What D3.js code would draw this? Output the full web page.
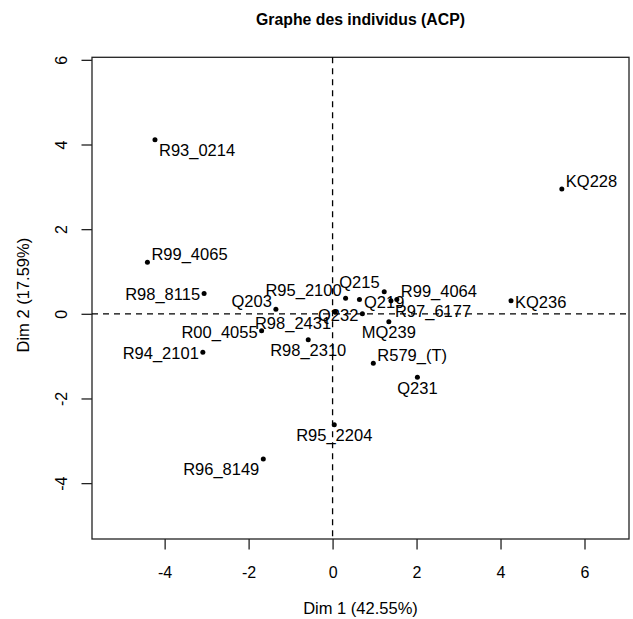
<!DOCTYPE html>
<html>
<head>
<meta charset="utf-8">
<script src="https://cdn.jsdelivr.net/npm/d3@7"></script>
<style>
  html, body { margin: 0; padding: 0; background: #fff; }
  svg { display: block; }
  text { font-family: "Liberation Sans", Arial, sans-serif; fill: #000; }
</style>
</head>
<body>
<svg id="chart" width="633" height="619"></svg>
<script>
// ---- Data ----
const individuals = ["R93_0214","KQ228","R99_4065","R98_8115","Q203","R95_2100","Q215","Q219","R97_6177","R99_4064","R98_2431","Q232","MQ239","KQ236","R00_4055","R94_2101","R98_2310","R579_(T)","Q231","R95_2204","R96_8149"];
const dim1 = [-4.23, 5.46, -4.41, -3.06, -1.35, 0.31, 0.64, 1.23, 1.39, 1.53, 0.06, 0.71, 1.34, 4.25, -1.69, -3.09, -0.58, 0.97, 2.02, 0.04, -1.65];
const dim2 = [4.11, 2.95, 1.22, 0.48, 0.11, 0.37, 0.34, 0.52, 0.31, 0.34, 0.04, 0.00, -0.19, 0.31, -0.40, -0.91, -0.61, -1.17, -1.50, -2.62, -3.43];
// label placement relative to the point (compass direction)
const labelPlace = ["se","ne","ne","w","nw","nw","n","s","se","ne","sw","w","s","e","w","w","s","ne","s","s","sw"];
const xTicks = [-4, -2, 0, 2, 4, 6];
const yTicks = [-4, -2, 0, 2, 4, 6];
const title = "Graphe des individus (ACP)";
const xTitle = "Dim 1 (42.55%)";
const yTitle = "Dim 2 (17.59%)";

// ---- Layout ----
const svg = d3.select("#chart");
const box = { left: 92, right: 629, top: 57.3, bottom: 539 };
const x = d3.scaleLinear().domain([-5.73, 7.06]).range([box.left, box.right]);
const y = d3.scaleLinear().domain([-5.32, 6.06]).range([box.bottom, box.top]);
const fs = 16.5;
const fmt = d => String(d);

// title
svg.append("text").attr("x", (box.left + box.right) / 2).attr("y", 25)
  .attr("text-anchor", "middle").attr("font-weight", "bold").attr("font-size", 15.8)
  .text(title);

// axes
const xAxis = svg.append("g").attr("transform", `translate(0,${box.bottom})`)
  .call(d3.axisBottom(x).tickValues(xTicks).tickSize(10.5).tickFormat(fmt));
const yAxis = svg.append("g").attr("transform", `translate(${box.left},0)`)
  .call(d3.axisLeft(y).tickValues(yTicks).tickSize(10.5).tickFormat(fmt));
[xAxis, yAxis].forEach(g => {
  g.select(".domain").remove();
  g.selectAll(".tick line").attr("stroke", "#222").attr("stroke-width", 1.3);
  g.selectAll(".tick text").attr("font-size", 16).attr("font-family", "Liberation Sans, Arial, sans-serif").attr("fill", "#000");
});
xAxis.selectAll(".tick text").attr("dy", null).attr("y", 38.5);
yAxis.selectAll(".tick text")
  .attr("x", null).attr("dy", null).attr("text-anchor", "middle")
  .attr("transform", "translate(-25,0) rotate(-90)").attr("y", 0);

// box
svg.append("rect").attr("x", box.left).attr("y", box.top)
  .attr("width", box.right - box.left).attr("height", box.bottom - box.top)
  .attr("fill", "none").attr("stroke", "#222").attr("stroke-width", 1.3);

// dashed lines at 0
svg.append("line").attr("x1", box.left).attr("x2", box.right).attr("y1", y(0)).attr("y2", y(0))
  .attr("stroke", "#000").attr("stroke-width", 1.3).attr("stroke-dasharray", "6,5");
svg.append("line").attr("y1", box.top).attr("y2", box.bottom).attr("x1", x(0)).attr("x2", x(0))
  .attr("stroke", "#000").attr("stroke-width", 1.3).attr("stroke-dasharray", "6,5");

// axis titles
svg.append("text").attr("x", (box.left + box.right) / 2).attr("y", 614)
  .attr("text-anchor", "middle").attr("font-size", fs).text(xTitle);
svg.append("text").attr("transform", `translate(28.5,${(box.top + box.bottom) / 2 - 3}) rotate(-90)`)
  .attr("text-anchor", "middle").attr("font-size", fs).text(yTitle);

// points
const data = individuals.map((n, i) => ({ name: n, d1: dim1[i], d2: dim2[i], place: labelPlace[i] }));
svg.append("g").selectAll("circle").data(data).join("circle")
  .attr("cx", d => x(d.d1)).attr("cy", d => y(d.d2)).attr("r", 2.5).attr("fill", "#000");

// labels
const gap = 4;
function labelAttrs(d) {
  const px = x(d.d1), py = y(d.d2);
  switch (d.place) {
    case "e":  return { x: px + gap, y: py + 7, a: "start" };
    case "w":  return { x: px - gap, y: py + 7, a: "end" };
    case "ne": return { x: px + gap, y: py - 2, a: "start" };
    case "nw": return { x: px - gap, y: py - 2, a: "end" };
    case "se": return { x: px + gap, y: py + 16.5, a: "start" };
    case "sw": return { x: px - gap, y: py + 16.5, a: "end" };
    case "n":  return { x: px, y: py - 11, a: "middle" };
    default:   return { x: px, y: py + 16.5, a: "middle" };
  }
}
svg.append("g").selectAll("text").data(data).join("text")
  .attr("x", d => labelAttrs(d).x).attr("y", d => labelAttrs(d).y)
  .attr("text-anchor", d => labelAttrs(d).a).attr("font-size", fs)
  .text(d => d.name);
</script>
</body>
</html>
